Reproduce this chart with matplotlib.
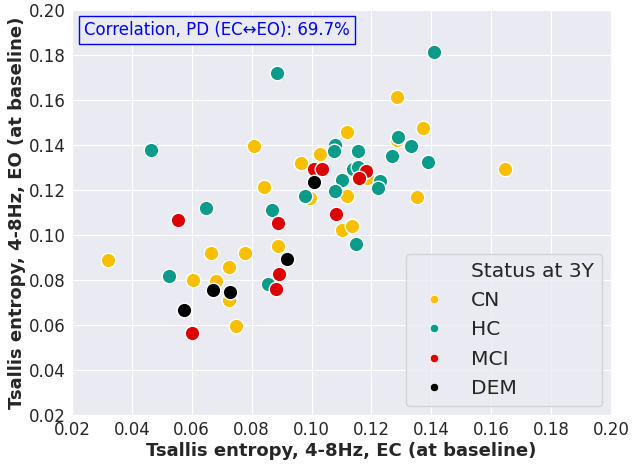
import matplotlib
matplotlib.use('Agg')
import matplotlib.pyplot as plt
from matplotlib.lines import Line2D
import seaborn as sns

# Values (EC on x, EO on y)
cn_ec = [0.1117, 0.1028, 0.0965, 0.0808, 0.1286, 0.1373, 0.1284, 0.1645, 0.1184, 0.1119,
         0.1351, 0.0995, 0.0841, 0.1101, 0.1136, 0.0887, 0.0319, 0.0605, 0.0665, 0.0777,
         0.0723, 0.0680, 0.0723, 0.0747]
cn_eo = [0.1456, 0.1359, 0.1321, 0.1397, 0.1612, 0.1476, 0.1422, 0.1294, 0.1253, 0.1174,
         0.1167, 0.1164, 0.1213, 0.1023, 0.1042, 0.0949, 0.0887, 0.0798, 0.0922, 0.0922,
         0.0860, 0.0797, 0.0712, 0.0594]

hc_ec = [0.0884, 0.0464, 0.1410, 0.1078, 0.1075, 0.1154, 0.1288, 0.1331, 0.1269, 0.1388,
         0.1139, 0.1154, 0.1103, 0.1229, 0.1223, 0.1079, 0.0978, 0.0647, 0.0869, 0.1148,
         0.0525, 0.0856]
hc_eo = [0.1719, 0.1378, 0.1815, 0.1400, 0.1373, 0.1374, 0.1437, 0.1397, 0.1352, 0.1324,
         0.1293, 0.1304, 0.1245, 0.1242, 0.1208, 0.1195, 0.1174, 0.1120, 0.1112, 0.0960,
         0.0819, 0.0782]

mci_ec = [0.1008, 0.1034, 0.1182, 0.1158, 0.1082, 0.0553, 0.0889, 0.0892, 0.0880, 0.0601]
mci_eo = [0.1293, 0.1293, 0.1285, 0.1255, 0.1093, 0.1067, 0.1053, 0.0826, 0.0760, 0.0563]

dem_ec = [0.1009, 0.0919, 0.0672, 0.0728, 0.0574]
dem_eo = [0.1236, 0.0893, 0.0754, 0.0745, 0.0667]

groups = ['CN', 'HC', 'MCI', 'DEM']
colors = ['#f9bf00', '#0a9b8a', '#dc0000', '#000000']
correlation = 69.7

sns.set_style('darkgrid')
fig = plt.figure(figsize=(6.33, 4.65), dpi=100)
ax = fig.add_axes([0.1137, 0.1075, 0.8515, 0.871])

data = [(cn_ec, cn_eo), (hc_ec, hc_eo), (mci_ec, mci_eo), (dem_ec, dem_eo)]
for (xs, ys), c in zip(data, colors):
    ax.scatter(xs, ys, s=110, color=c, edgecolor='white', linewidth=1.0, zorder=3)

ax.set_xlim(0.02, 0.20)
ax.set_ylim(0.02, 0.20)
ax.set_xticks([0.02 + 0.02 * i for i in range(10)])
ax.set_yticks([0.02 + 0.02 * i for i in range(10)])
ax.tick_params(labelsize=12, pad=1)
ax.set_xlabel('Tsallis entropy, 4-8Hz, EC (at baseline)', fontsize=13, fontweight='bold', labelpad=2)
ax.set_ylabel('Tsallis entropy, 4-8Hz, EO (at baseline)', fontsize=13, fontweight='bold', labelpad=2)

ax.text(0.023, 0.972, 'Correlation, PD (EC\u2194EO): %.1f%%' % correlation, transform=ax.transAxes,
        fontsize=12, color='blue', va='top', ha='left',
        bbox=dict(facecolor='#eaeaf2', edgecolor='blue', boxstyle='square,pad=0.3'))

# old seaborn-style legend: hue name as first entry with an empty handle
handles = [Line2D([], [], linestyle='none', marker='')]
labels = ['Status at 3Y']
for g, c in zip(groups, colors):
    handles.append(Line2D([], [], linestyle='none', marker='o', markersize=6,
                          markerfacecolor=c, markeredgecolor='white', markeredgewidth=0.5))
    labels.append(g)
ax.legend(handles, labels, loc='lower right', fontsize=14.6, frameon=True, borderaxespad=0.45)

fig.savefig('out.png', dpi=100)
